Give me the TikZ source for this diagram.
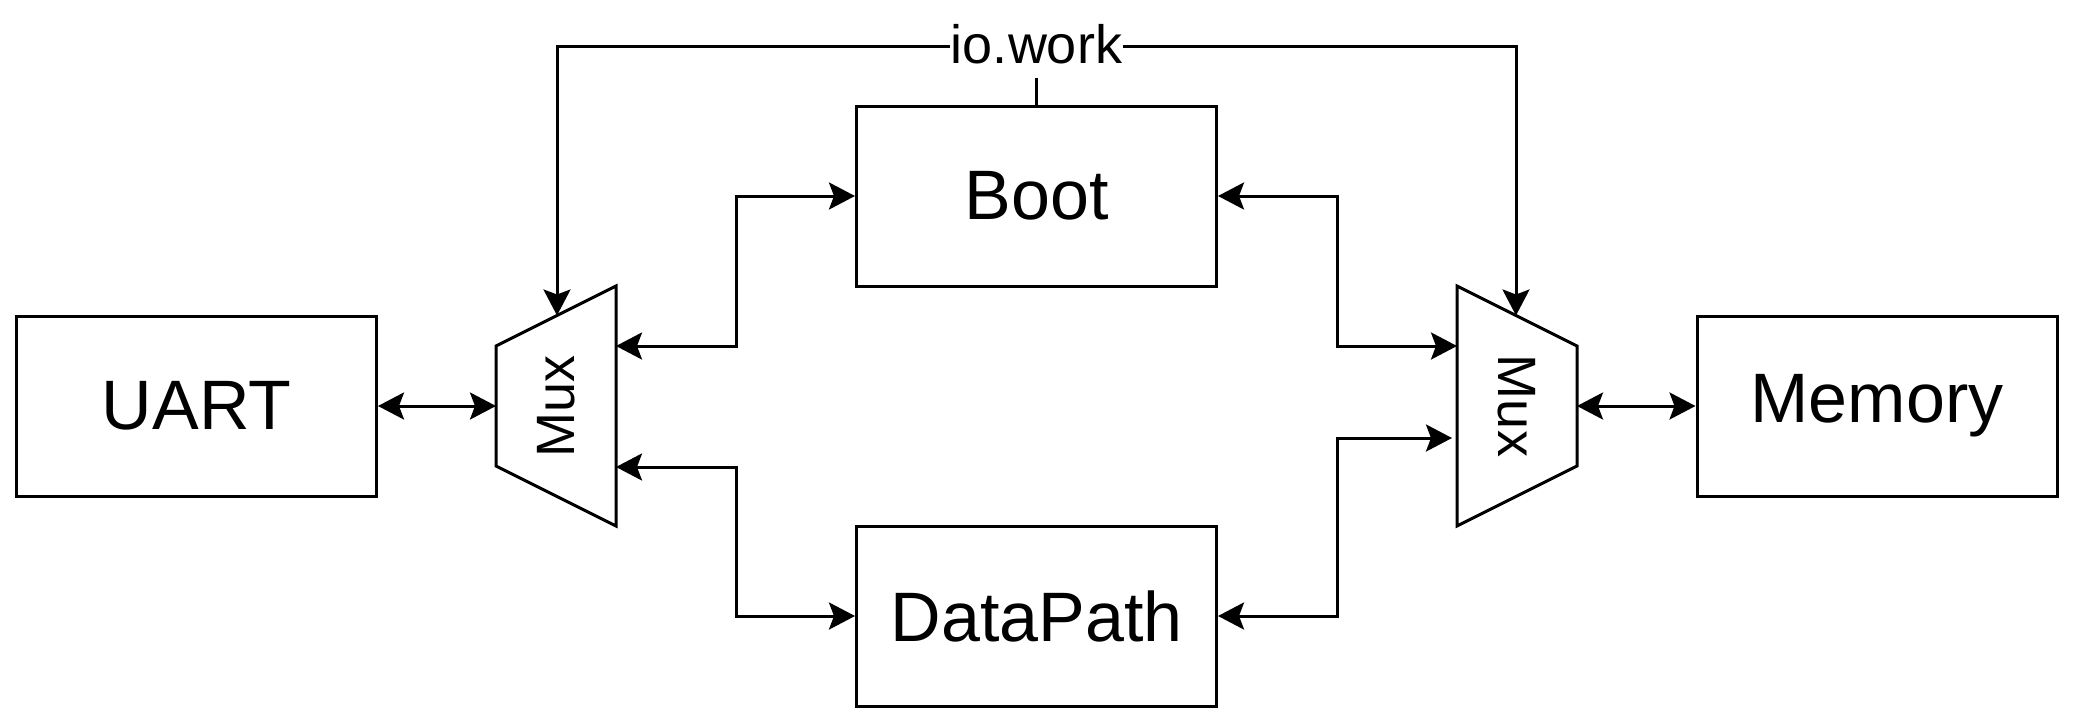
\documentclass[tikz,border=0pt]{standalone}
\usepackage{fontspec}
\setmainfont{Liberation Sans}
\usetikzlibrary{arrows.meta}
\tikzset{
  blk/.style={draw, line width=3pt, minimum width=360pt, minimum height=180pt, inner sep=0pt, font=\fontsize{70}{84}\selectfont},
  muxshape/.style={draw, line width=3pt},
  muxlabel/.style={inner sep=0pt, font=\fontsize{54}{65}\selectfont},
  wire/.style={line width=3pt, -{Stealth[length=26pt, width=27pt, inset=5pt]}},
  dbl/.style={line width=3pt, {Stealth[length=26pt, width=27pt, inset=5pt]}-{Stealth[length=26pt, width=27pt, inset=5pt]}},
  lbl/.style={fill=white, inner xsep=1pt, inner ysep=0pt, text height=49pt, text depth=15pt, font=\fontsize{54}{65}\selectfont}
}
\begin{document}
\begin{tikzpicture}[x=1pt, y=-1pt]
\useasboundingbox (0,0) rectangle (2073,723);
% boxes
\node[blk] (uart) at (196.5,406) {UART};
\node[blk] (boot) at (1036.5,196) {Boot};
\node[blk] (dp) at (1036.5,616) {DataPath};
\node[blk] (mem) at (1877,406) {Memory};
% left mux
\draw[muxshape] (496,346) -- (616,286) -- (616,526) -- (496,466) -- cycle;
\node[muxlabel, rotate=90] (lmux) at (556,406) {Mux};
\coordinate (lmuxin) at (496,406);
\coordinate (lmuxa) at (616,346);
\coordinate (lmuxb) at (616,467);
\coordinate (lmuxsel) at (557,315.5);
% right mux
\draw[muxshape] (1457,286) -- (1577,346) -- (1577,466) -- (1457,526) -- cycle;
\node[muxlabel, rotate=-90] (rmux) at (1517,406) {Mux};
\coordinate (rmuxout) at (1577,406);
\coordinate (rmuxa) at (1457,346);
\coordinate (rmuxb) at (1452,438);
\coordinate (rmuxsel) at (1516,315.5);
% routing columns
\coordinate (xl) at (736.5,0);
\coordinate (xr) at (1337,0);
\coordinate (top) at (1036.5,46);
% connectors
\draw[dbl] (uart.east) -- (lmuxin);
\draw[dbl] (rmuxout) -- (mem.west);
\draw[dbl] (lmuxa) -- (lmuxa -| xl) |- (boot.west);
\draw[dbl] (lmuxb) -- (lmuxb -| xl) |- (dp.west);
\draw[dbl] (boot.east) -- (boot.east -| xr) |- (rmuxa);
\draw[dbl] (dp.east) -- (dp.east -| xr) |- (rmuxb);
% select line
\draw[line width=3pt] (boot.north) -- (top);
\draw[wire] (top) -| (lmuxsel);
\draw[wire] (top) -| (rmuxsel);
\node[lbl, anchor=base] (iowork) at (1036.5,63) {io.work};
\end{tikzpicture}
\end{document}
